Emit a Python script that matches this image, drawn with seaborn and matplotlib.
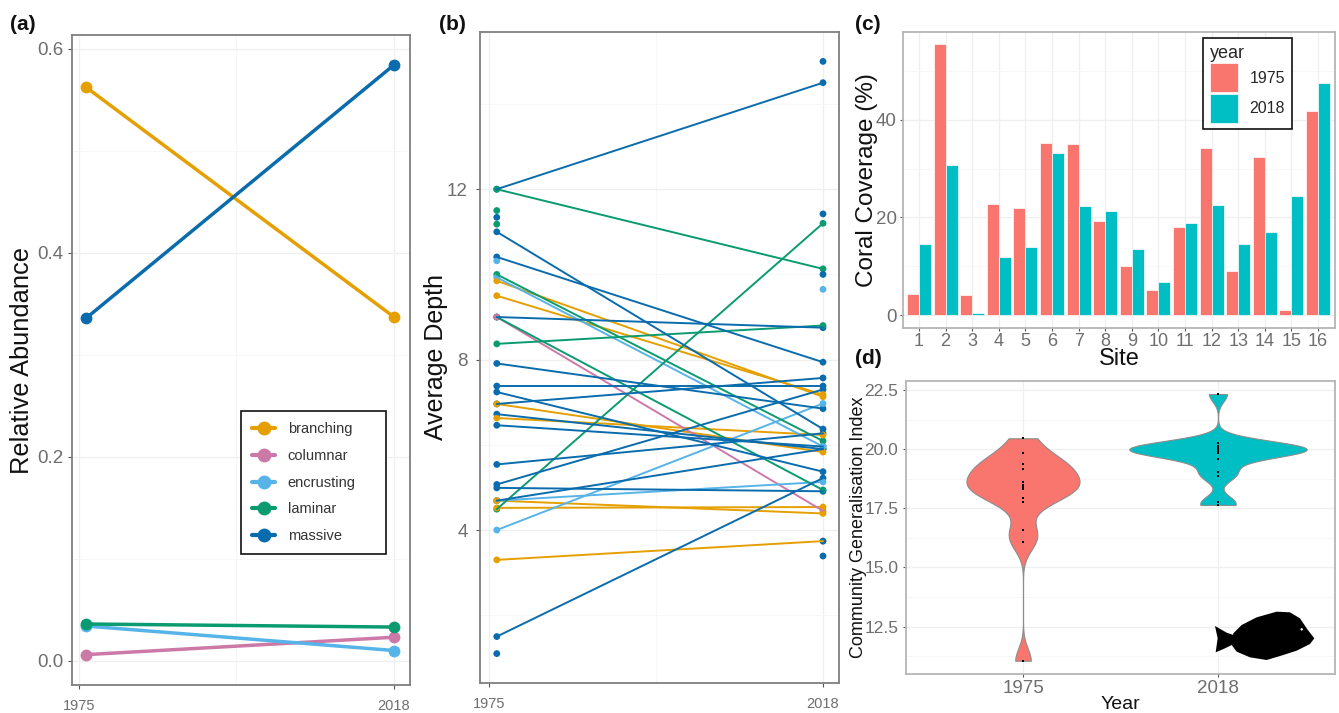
# =========================
# plot.py - coral / fish community panels
# =========================

import numpy as np
import pandas as pd
import matplotlib
matplotlib.use("Agg")
import matplotlib.pyplot as plt
import seaborn as sns
from matplotlib.patches import Polygon, Circle
from matplotlib.transforms import IdentityTransform


# =========================
# 1. Data
# =========================

# points sit a little right of the 1975 tick in the original
start_year = 1976
end_year = 2018

morph_names = ["branching", "columnar", "encrusting", "laminar", "massive"]
morph_colors = ["#E69F00", "#CC79A7", "#56B4E9", "#0A9B70", "#0A6CAD"]

abundance_start = [0.562, 0.006, 0.034, 0.036, 0.336]
abundance_end = [0.337, 0.023, 0.010, 0.033, 0.584]

pair_morph = [
    "massive", "massive", "massive", "massive", "massive",
    "massive", "massive", "massive", "massive", "massive",
    "massive", "massive", "massive", "massive", "massive",
    "laminar", "laminar", "laminar", "laminar", "laminar",
    "encrusting", "encrusting", "encrusting",
    "columnar",
    "branching", "branching", "branching", "branching",
    "branching", "branching", "branching",
]
pair_start = [
    12.0, 11.0, 10.41, 9.0, 7.91,
    7.38, 7.24, 6.96, 6.72, 6.46,
    5.54, 5.07, 4.99, 4.69, 1.5,
    12.0, 10.0, 9.0, 8.37, 4.49,
    9.93, 4.69, 4.0,
    9.0,
    9.85, 9.5, 6.96, 6.63,
    4.69, 4.52, 3.3,
]
pair_end = [
    14.5, 6.37, 7.94, 8.75, 6.85,
    7.38, 5.37, 7.57, 5.9, 5.96,
    6.27, 7.3, 4.91, 5.9, 5.22,
    10.13, 6.09, 4.94, 8.8, 11.2,
    5.96, 5.13, 6.97,
    4.45,
    7.13, 7.18, 5.83, 6.23,
    4.39, 4.54, 3.74,
]

lone_start_morph = ["massive", "massive", "laminar", "laminar", "encrusting"]
lone_start = [11.34, 1.1, 11.5, 11.18, 10.32]
lone_end_morph = ["massive", "massive", "massive", "massive", "massive", "encrusting"]
lone_end = [15.0, 11.42, 10.0, 3.39, 3.74, 9.65]

sites = [str(i) for i in range(1, 17)]
coverage_1975 = [4.4, 55.5, 4.0, 22.8, 21.9, 35.3, 35.0, 19.3, 10.0, 5.1, 18.0, 34.2, 9.0, 32.3, 1.0, 41.9]
coverage_2018 = [14.5, 30.7, 0.5, 11.9, 14.0, 33.2, 22.4, 21.4, 13.5, 6.7, 18.9, 22.6, 14.6, 17.0, 24.4, 47.5]
year_names = ["1975", "2018"]
year_colors = ["#F8766D", "#00BFC4"]

cgi_1975 = [20.46, 19.85, 19.37, 19.37, 19.18, 19.18, 18.61, 18.5, 18.39, 18.3, 17.92, 17.75, 16.58, 16.09, 11.06, 18.5]
cgi_2018 = [22.33, 20.27, 20.15, 20.04, 20.04, 20.0, 20.0, 20.0, 19.95, 19.9, 19.85, 19.58, 19.05, 18.87, 17.75, 17.64]


# =========================
# 2. Tables
# =========================

abundance_df = pd.DataFrame({
    "morph": morph_names * 2,
    "year": [start_year] * 5 + [end_year] * 5,
    "abundance": abundance_start + abundance_end,
})

n_pairs = len(pair_morph)
depth_df = pd.DataFrame({
    "pair": list(range(n_pairs)) * 2,
    "morph": pair_morph * 2,
    "year": [start_year] * n_pairs + [end_year] * n_pairs,
    "depth": pair_start + pair_end,
})
lone_df = pd.DataFrame({
    "morph": lone_start_morph + lone_end_morph,
    "year": [start_year] * len(lone_start) + [end_year] * len(lone_end),
    "depth": lone_start + lone_end,
})

coverage_df = pd.DataFrame({
    "site": sites * 2,
    "year": ["1975"] * 16 + ["2018"] * 16,
    "coverage": coverage_1975 + coverage_2018,
})

cgi_df = pd.DataFrame({
    "year": ["1975"] * len(cgi_1975) + ["2018"] * len(cgi_2018),
    "cgi": cgi_1975 + cgi_2018,
})


# =========================
# 3. Figure set up
# =========================

sns.set_theme(style="white")
plt.rcParams["font.family"] = ["Liberation Sans", "DejaVu Sans"]

W, H = 1339, 713
fig = plt.figure(figsize=(W / 100, H / 100), dpi=100)

GRID = "#EFEFEF"
TICK = "#6E6E6E"


def panel(left, top, right, bottom):
    return fig.add_axes([left / W, 1 - bottom / H, (right - left) / W, (bottom - top) / H])


def finish(ax, xmajor, xminor, ymajor, yminor, edge="#7F7F7F", edge_w=1.3):
    ax.set_axisbelow(True)
    ax.set_xticks(xmajor)
    ax.set_xticks(xminor, minor=True)
    ax.set_yticks(ymajor)
    ax.set_yticks(yminor, minor=True)
    ax.grid(True, which="major", color=GRID, lw=0.9)
    ax.grid(True, which="minor", color="#F6F6F6", lw=0.6)
    ax.tick_params(which="minor", length=0)
    ax.tick_params(which="major", length=3, width=0.8, color="#555555", labelcolor=TICK,
                   bottom=True, left=True, pad=2)
    for s in ax.spines.values():
        s.set_color(edge)
        s.set_linewidth(edge_w)


# =========================
# 4. Panel (a)
# =========================

ax_a = panel(71.7, 35, 410, 685)
sns.lineplot(
    data=abundance_df, x="year", y="abundance", hue="morph", hue_order=morph_names,
    palette=morph_colors, marker="o", markersize=8.5, markeredgewidth=0, lw=2.5, ax=ax_a
)
ax_a.set_xlim(1974.0, 2020.2)
ax_a.set_ylim(-0.0238, 0.6134)
finish(ax_a, [1975, 2018], [1996.5], [0, 0.2, 0.4, 0.6], [0.1, 0.3, 0.5])
ax_a.tick_params(axis="y", labelsize=13.5, pad=3)
ax_a.tick_params(axis="x", labelsize=10.5, pad=7)
ax_a.set_xlabel("")
ax_a.set_ylabel("Relative Abundance", fontsize=18.3, color="#111111")
ax_a.yaxis.set_label_coords((34 - 71.7) / 338.3, 0.5)
leg = ax_a.legend(
    loc="upper left",
    bbox_to_anchor=((241 - 71.7) / 338.3, (685 - 552) / 650, 145 / 338.3, 141 / 650),
    mode="expand", borderaxespad=0, frameon=True, fancybox=False, edgecolor="#111111",
    framealpha=1, fontsize=10.5, labelspacing=0.88, handlelength=1.6, handletextpad=0.85,
    borderpad=0.75,
)
leg.get_frame().set_linewidth(1.2)
for t in leg.get_texts():
    t.set_color("#333333")
for h in leg.get_lines():
    h.set_linewidth(3)
    h.set_markersize(10)


# =========================
# 5. Panel (b)
# =========================

ax_b = panel(480, 32, 839, 683)
sns.lineplot(
    data=depth_df, x="year", y="depth", hue="morph", hue_order=morph_names, palette=morph_colors,
    units="pair", estimator=None, lw=1.4, legend=False, ax=ax_b
)
sns.scatterplot(
    data=depth_df, x="year", y="depth", hue="morph", hue_order=morph_names, palette=morph_colors,
    s=24, linewidth=0, legend=False, ax=ax_b
)
sns.scatterplot(
    data=lone_df, x="year", y="depth", hue="morph", hue_order=morph_names, palette=morph_colors,
    s=24, linewidth=0, legend=False, ax=ax_b
)
ax_b.set_xlim(1973.84, 2020.06)
ax_b.set_ylim(0.41, 15.69)
finish(ax_b, [1975, 2018], [1996.5], [4, 8, 12], [2, 6, 10, 14])
ax_b.tick_params(axis="y", labelsize=13.5, pad=6)
ax_b.tick_params(axis="x", labelsize=10.5, pad=7)
ax_b.set_xlabel("")
ax_b.set_ylabel("Average Depth", fontsize=18, color="#111111")
ax_b.yaxis.set_label_coords((448 - 480) / 359, 0.5)


# =========================
# 6. Panel (c)
# =========================

ax_c = panel(903, 31.7, 1335, 328)
sns.barplot(
    data=coverage_df, x="site", y="coverage", hue="year", order=sites, palette=year_colors,
    width=0.9, gap=0, errorbar=None, saturation=1, edgecolor="white", linewidth=0.5, ax=ax_c
)
ax_c.set_xlim(-0.6, 15.64)
ax_c.set_ylim(-2.66, 58.05)
finish(ax_c, list(range(16)), [], [0, 20, 40], [10, 30, 50], edge="#B5B5B5")
ax_c.set_xticklabels(sites)
ax_c.tick_params(axis="y", labelsize=13.5, length=2.5)
ax_c.tick_params(axis="x", labelsize=13, length=2.5, pad=1)
ax_c.set_xlabel("Site", fontsize=17, color="#111111", labelpad=-1)
ax_c.set_ylabel("Coral Coverage (%)", fontsize=17.5, color="#111111")
ax_c.yaxis.set_label_coords((878 - 903) / 432, 0.5)
leg = ax_c.legend(
    title="year", loc="upper left",
    bbox_to_anchor=((1203 - 903) / 432, 1 - (38 - 31.7) / 296.3),
    borderaxespad=0, frameon=True, fancybox=False, edgecolor="#111111", framealpha=1,
    fontsize=11.5, title_fontsize=13, handlelength=1.75, handleheight=2.41, labelspacing=0.1,
    handletextpad=0.75, borderpad=0.42, alignment="left",
)
leg.get_frame().set_linewidth(1.2)


# =========================
# 7. Panel (d)
# =========================

ax_d = panel(906, 381, 1335, 674)
# each violin has its own bandwidth and width, as ggplot gave them
for year, color, bw, vwidth in zip(year_names, year_colors, [0.24, 0.3], [0.58, 0.91]):
    sns.violinplot(
        data=cgi_df[cgi_df["year"] == year], x="year", y="cgi", order=year_names, color=color,
        density_norm="width", cut=0, inner=None, width=vwidth, bw_method=bw, saturation=1,
        linecolor="#8C8C8C", linewidth=0.8, ax=ax_d
    )
sns.stripplot(
    data=cgi_df, x="year", y="cgi", order=year_names, color="black", size=1.9,
    jitter=False, marker="s", linewidth=0, ax=ax_d
)
ax_d.set_xlim(-0.6, 1.6)
ax_d.set_ylim(10.5, 22.88)
finish(ax_d, [0, 1], [], [12.5, 15, 17.5, 20, 22.5], [11.25, 13.75, 16.25, 18.75, 21.25], edge="#B5B5B5")
ax_d.set_yticklabels(["12.5", "15.0", "17.5", "20.0", "22.5"])
ax_d.tick_params(axis="y", labelsize=12.5, length=2.5, pad=3)
ax_d.tick_params(axis="x", labelsize=13.5, length=2.5)
ax_d.set_xlabel("Year", fontsize=14, color="#111111", labelpad=-1)
ax_d.set_ylabel("Community Generalisation Index", fontsize=13, color="#111111")
ax_d.yaxis.set_label_coords((867 - 906) / 429, 0.5)


# =========================
# 8. Fish silhouette and panel letters
# =========================

fish_tail = np.array([(1095, 768), (1130, 788), (1165, 800), (1165, 815), (1125, 835), (1097, 847), (1103, 805)])
fish_body = np.array([
    (1150, 790), (1175, 765), (1220, 742), (1280, 725), (1320, 727), (1350, 745), (1372, 778),
    (1393, 805), (1380, 822), (1340, 842), (1300, 855), (1250, 870), (1200, 862), (1160, 845), (1145, 825),
])
for shape in (fish_tail, fish_body):
    pts = np.column_stack([850 + shape[:, 0] / 3, H - (370 + shape[:, 1] / 3)])
    fig.add_artist(Polygon(pts, closed=True, facecolor="black", edgecolor="none", transform=IdentityTransform()))
fig.add_artist(Circle((850 + 1355 / 3, H - (370 + 778 / 3)), 1.2, facecolor="white", edgecolor="none",
                      transform=IdentityTransform(), zorder=5))

for label, px, py in [("(a)", 10, 25), ("(b)", 439, 25), ("(c)", 855, 25), ("(d)", 855, 358)]:
    fig.text(px / W, 1 - py / H, label, fontsize=15, fontweight="bold", color="#111111", va="center")

fig.savefig("out.png", dpi=100)
